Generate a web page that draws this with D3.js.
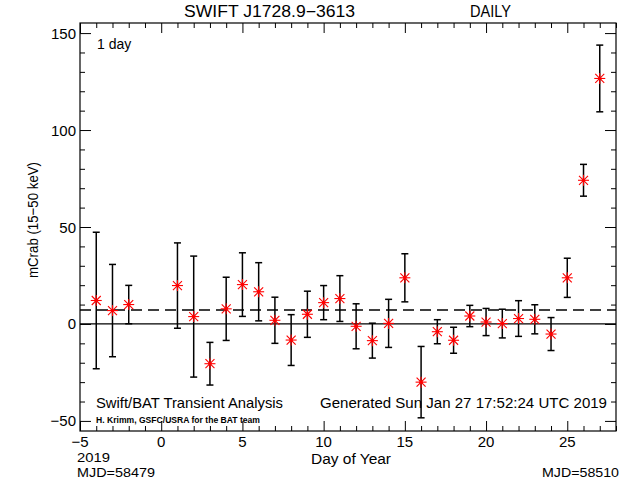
<!DOCTYPE html>
<html>
<head>
<meta charset="utf-8">
<script src="https://cdn.jsdelivr.net/npm/d3@7"></script>
<style>
  html, body { margin: 0; padding: 0; background: #fff; }
  svg { display: block; }
  text { font-family: "Liberation Sans", Arial, sans-serif; fill: #000; }
</style>
</head>
<body>
<svg id="chart" width="640" height="480"></svg>
<script>
// ---- data ----
const days   = [-4, -3, -2, 1, 2, 3, 4, 5, 6, 7, 8, 9, 10, 11, 12, 13, 14, 15, 16, 17, 18, 19, 20, 21, 22, 23, 24, 25, 26, 27];
const rates  = [12.1, 6.9, 10.0, 19.8, 3.8, -20.5, 7.8, 20.3, 16.6, 1.9, -8.3, 5.0, 11.0, 13.1, -1.2, -8.6, 0.3, 23.8, -30.0, -4.0, -8.4, 4.1, 1.0, 0.2, 2.8, 2.4, -5.2, 23.8, 74.1, 126.6];
const errors = [35.2, 23.8, 9.9, 22.0, 31.2, 11.0, 16.3, 16.4, 15.0, 11.9, 13.1, 11.9, 8.8, 11.8, 11.6, 9.0, 12.4, 12.4, 18.4, 6.2, 6.7, 5.5, 7.0, 7.4, 9.2, 7.5, 8.5, 10.1, 8.2, 17.2];
const meanRate = 7.2;
const xMajorTicks = [-5, 0, 5, 10, 15, 20, 25];
const yMajorTicks = [-50, 0, 50, 100, 150];
const title = "SWIFT J1728.9\u22123613";
const subtitle = "DAILY";
const yLabel = "mCrab (15\u221250 keV)";
const xLabel = "Day of Year";

const svg = d3.select("#chart");
const L = 80, R = 616, T = 23, B = 431;

const x = d3.scaleLinear().domain([-5, 28]).range([L, R]);
const y = d3.scaleLinear().domain([-55.2, 155.2]).range([B, T]);

const xMinor = d3.range(-5, 29, 1).filter(v => !xMajorTicks.includes(v));
const yMinor = d3.range(-50, 156, 10).filter(v => !yMajorTicks.includes(v));

function styleAxis(g) {
  g.select(".domain").remove();
  g.selectAll("line").attr("stroke", "#000").attr("stroke-width", 1);
  g.selectAll("text").remove();
}

// bottom
svg.append("g").attr("transform", `translate(0,${B})`)
  .call(d3.axisBottom(x).tickValues(xMajorTicks).tickSize(-10)).call(styleAxis);
svg.append("g").attr("transform", `translate(0,${B})`)
  .call(d3.axisBottom(x).tickValues(xMinor).tickSize(-5)).call(styleAxis);
// top
svg.append("g").attr("transform", `translate(0,${T})`)
  .call(d3.axisTop(x).tickValues(xMajorTicks).tickSize(-10)).call(styleAxis);
svg.append("g").attr("transform", `translate(0,${T})`)
  .call(d3.axisTop(x).tickValues(xMinor).tickSize(-5)).call(styleAxis);
// left
svg.append("g").attr("transform", `translate(${L},0)`)
  .call(d3.axisLeft(y).tickValues(yMajorTicks).tickSize(-11)).call(styleAxis);
svg.append("g").attr("transform", `translate(${L},0)`)
  .call(d3.axisLeft(y).tickValues(yMinor).tickSize(-5)).call(styleAxis);
// right
svg.append("g").attr("transform", `translate(${R},0)`)
  .call(d3.axisRight(y).tickValues(yMajorTicks).tickSize(-11)).call(styleAxis);
svg.append("g").attr("transform", `translate(${R},0)`)
  .call(d3.axisRight(y).tickValues(yMinor).tickSize(-5)).call(styleAxis);

// frame
svg.append("rect").attr("x", L).attr("y", T).attr("width", R - L).attr("height", B - T)
  .attr("fill", "none").attr("stroke", "#000").attr("stroke-width", 1.2);

// tick labels
svg.append("g").selectAll("text").data(xMajorTicks).join("text")
  .attr("x", d => x(d)).attr("y", 447)
  .attr("text-anchor", "middle").attr("font-size", 15)
  .text(d => d < 0 ? "\u2212" + Math.abs(d) : d);
svg.append("g").selectAll("text").data(yMajorTicks).join("text")
  .attr("x", 76).attr("y", d => y(d) + 5.5)
  .attr("text-anchor", "end").attr("font-size", 15)
  .text(d => d < 0 ? "\u2212" + Math.abs(d) : d);

// zero line and mean line
svg.append("line").attr("x1", L).attr("x2", R).attr("y1", y(0)).attr("y2", y(0))
  .attr("stroke", "#000").attr("stroke-width", 1.3);
svg.append("line").attr("x1", L).attr("x2", R).attr("y1", y(meanRate)).attr("y2", y(meanRate))
  .attr("stroke", "#000").attr("stroke-width", 1.3).attr("stroke-dasharray", "11,6");

// error bars
const pts = days.map((d, i) => ({ d, v: rates[i], e: errors[i] }));
const eb = svg.append("g").attr("stroke", "#000").attr("stroke-width", 1.5);
pts.forEach(p => {
  eb.append("line").attr("x1", x(p.d)).attr("x2", x(p.d))
    .attr("y1", y(p.v - p.e)).attr("y2", y(p.v + p.e));
  [p.v - p.e, p.v + p.e].forEach(v => {
    eb.append("line").attr("x1", x(p.d) - 3.5).attr("x2", x(p.d) + 3.5)
      .attr("y1", y(v)).attr("y2", y(v));
  });
});

// asterisk markers
const mk = svg.append("g");
const r = 5.5, rd = 4.5;
pts.forEach(p => {
  const cx = x(p.d), cy = y(p.v);
  const g = mk.append("g").attr("stroke", "#ff0000").attr("stroke-width", 1.1);
  g.append("line").attr("x1", cx - r).attr("x2", cx + r).attr("y1", cy).attr("y2", cy);
  g.append("line").attr("x1", cx).attr("x2", cx).attr("y1", cy - r).attr("y2", cy + r);
  g.append("line").attr("x1", cx - rd).attr("x2", cx + rd).attr("y1", cy - rd).attr("y2", cy + rd);
  g.append("line").attr("x1", cx - rd).attr("x2", cx + rd).attr("y1", cy + rd).attr("y2", cy - rd);
  mk.append("circle").attr("cx", cx).attr("cy", cy).attr("r", 1.8).attr("fill", "#ff0000");
});

// texts
svg.append("text").attr("x", 184).attr("y", 17).attr("font-size", 16)
  .attr("textLength", 171).attr("lengthAdjust", "spacingAndGlyphs").text(title);
svg.append("text").attr("x", 470).attr("y", 17).attr("font-size", 16)
  .attr("textLength", 41).attr("lengthAdjust", "spacingAndGlyphs").text(subtitle);
svg.append("text").attr("x", 97).attr("y", 49).attr("font-size", 14).text("1 day");

svg.append("text").attr("transform", "translate(38,220) rotate(-90)")
  .attr("text-anchor", "middle").attr("font-size", 15)
  .attr("textLength", 116).attr("lengthAdjust", "spacingAndGlyphs").text(yLabel);

svg.append("text").attr("x", 351).attr("y", 464).attr("text-anchor", "middle").attr("font-size", 14)
  .attr("textLength", 80).attr("lengthAdjust", "spacingAndGlyphs").text(xLabel);
svg.append("text").attr("x", 77).attr("y", 462).attr("font-size", 13)
  .attr("textLength", 33).attr("lengthAdjust", "spacingAndGlyphs").text("2019");
svg.append("text").attr("x", 77).attr("y", 477).attr("font-size", 13)
  .attr("textLength", 78).attr("lengthAdjust", "spacingAndGlyphs").text("MJD=58479");
svg.append("text").attr("x", 542).attr("y", 477).attr("font-size", 13)
  .attr("textLength", 77).attr("lengthAdjust", "spacingAndGlyphs").text("MJD=58510");

svg.append("text").attr("x", 96).attr("y", 408).attr("font-size", 15)
  .attr("textLength", 187).attr("lengthAdjust", "spacingAndGlyphs").text("Swift/BAT Transient Analysis");
svg.append("text").attr("x", 96).attr("y", 423).attr("font-size", 9).attr("font-weight", "bold")
  .attr("textLength", 164).attr("lengthAdjust", "spacingAndGlyphs").text("H. Krimm, GSFC/USRA for the BAT team");
svg.append("text").attr("x", 320).attr("y", 408).attr("font-size", 15)
  .attr("textLength", 287).attr("lengthAdjust", "spacingAndGlyphs").text("Generated Sun Jan 27 17:52:24 UTC 2019");
</script>
</body>
</html>
